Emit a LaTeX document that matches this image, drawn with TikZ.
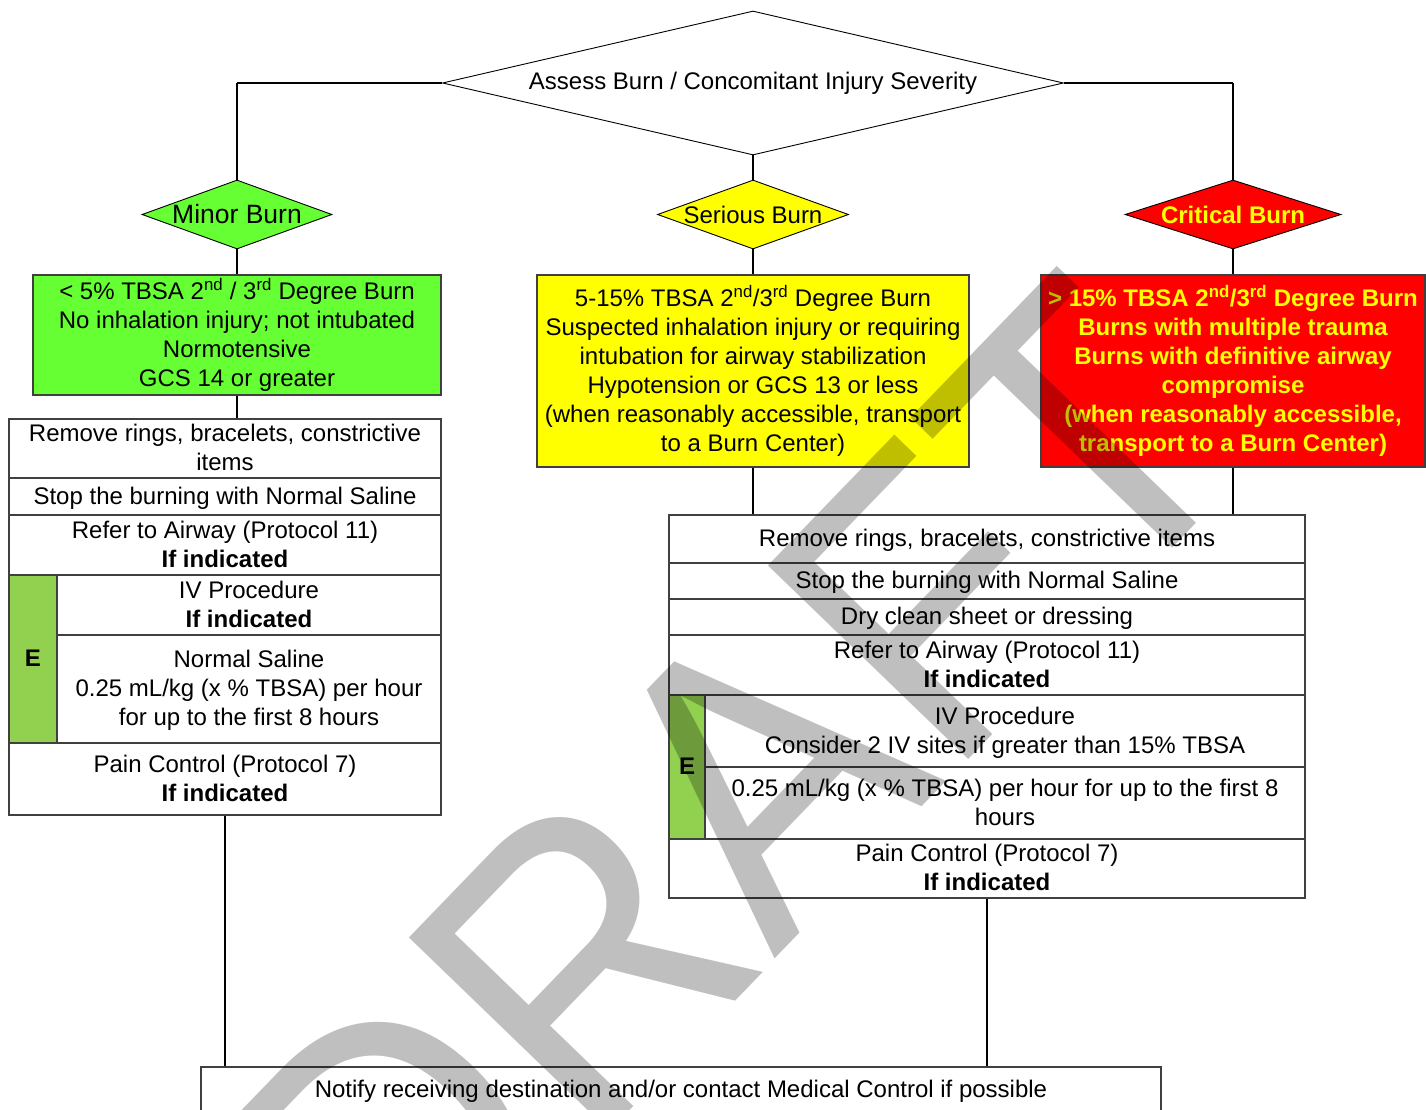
\documentclass[tikz,border=0pt]{standalone}
\usepackage{fontspec}
\setmainfont{Liberation Sans}
\usetikzlibrary{shapes.geometric}
\definecolor{minorg}{HTML}{66FF33}
\definecolor{ecol}{HTML}{92D050}
\definecolor{seriousy}{HTML}{FFFF00}
\definecolor{criticalr}{HTML}{FF0000}
\definecolor{boxline}{HTML}{404040}
\newcommand{\fsz}{\fontsize{24}{29}\selectfont}
\newcommand{\vs}{\rule[-6pt]{0pt}{27pt}}
\begin{document}
\begin{tikzpicture}[x=1pt,y=-1pt,
  cell/.style={rectangle, draw=boxline, line width=1.2pt, inner sep=0pt, align=center, font=\fsz},
  dia/.style={diamond, draw=black, line width=0.9pt, inner sep=0pt},
  conn/.style={draw=black, line width=1.3pt},
  hconn/.style={draw=black, line width=2.4pt},
  wmark/.style={rotate=46, xscale=0.92, anchor=base west, inner sep=0pt, font=\fontsize{405}{405}\selectfont, text=black, text opacity=0.25}]
\useasboundingbox (0,0) rectangle (1426,1110);

% decision diamonds
\node[dia, fill=white, minimum width=621pt, minimum height=144pt] (assess) at (753,83)
  {\makebox[0pt]{\fsz Assess Burn / Concomitant Injury Severity}};
\node[dia, fill=minorg, minimum width=190pt, minimum height=69pt] (minor) at (237,214.5)
  {\makebox[0pt]{\fontsize{26.5}{30}\selectfont Minor Burn}};
\node[dia, fill=seriousy, minimum width=191pt, minimum height=69pt] (serious) at (753,214.5)
  {\makebox[0pt]{\fsz Serious Burn}};
\node[dia, fill=criticalr, minimum width=216pt, minimum height=69pt] (critical) at (1233,214.5)
  {\makebox[0pt]{\fsz\bfseries\color{seriousy}Critical Burn}};

% criteria boxes
\node[cell, fill=minorg, minimum width=408pt, minimum height=120pt] (gbox) at (237,335)
  {\vs{}< 5\% TBSA 2\textsuperscript{nd} / 3\textsuperscript{rd} Degree Burn\\No inhalation injury; not intubated\\Normotensive\\GCS 14 or greater\vs};
\node[cell, fill=seriousy, minimum width=432pt, minimum height=192pt] (ybox) at (753,371)
  {\vs{}5-15\% TBSA 2\textsuperscript{nd}/3\textsuperscript{rd} Degree Burn\\Suspected inhalation injury or requiring\\intubation for airway stabilization\\Hypotension or GCS 13 or less\\(when reasonably accessible, transport\\to a Burn Center)\vs};
\node[cell, fill=criticalr, text=seriousy, font=\fsz\bfseries, minimum width=384pt, minimum height=192pt] (rbox) at (1233,371)
  {\vs{}> 15\% TBSA 2\textsuperscript{nd}/3\textsuperscript{rd} Degree Burn\\Burns with multiple trauma\\Burns with definitive airway\\compromise\\(when reasonably accessible,\\transport to a Burn Center)\vs};

% left treatment list
\node[cell, minimum width=432pt, minimum height=59pt] (l1) at (225,448.5)
  {\vs{}Remove rings, bracelets, constrictive\\items\vs};
\node[cell, minimum width=432pt, minimum height=37pt] (l2) at (225,496.5)
  {\vs{}Stop the burning with Normal Saline};
\node[cell, minimum width=432pt, minimum height=60pt] (l3) at (225,545)
  {\vs{}Refer to Airway (Protocol 11)\\\textbf{If indicated}\vs};
\node[cell, fill=ecol, minimum width=48pt, minimum height=168pt, font=\fsz\bfseries] (le) at (33,659) {\vs{}E};
\node[cell, minimum width=384pt, minimum height=60pt] (l4) at (249,605)
  {\vs{}IV Procedure\\\textbf{If indicated}\vs};
\node[cell, minimum width=384pt, minimum height=108pt] (l5) at (249,689)
  {\vs{}Normal Saline\\0.25 mL/kg (x \% TBSA) per hour\\for up to the first 8 hours\vs};
\node[cell, minimum width=432pt, minimum height=72pt] (l6) at (225,779)
  {\vs{}Pain Control (Protocol 7)\\\textbf{If indicated}\vs};

% right treatment list
\node[cell, minimum width=636pt, minimum height=48pt] (r1) at (987,539)
  {\vs{}Remove rings, bracelets, constrictive items};
\node[cell, minimum width=636pt, minimum height=36pt] (r2) at (987,581)
  {\vs{}Stop the burning with Normal Saline};
\node[cell, minimum width=636pt, minimum height=36pt] (r3) at (987,617)
  {\vs{}Dry clean sheet or dressing};
\node[cell, minimum width=636pt, minimum height=60pt] (r4) at (987,665)
  {\vs{}Refer to Airway (Protocol 11)\\\textbf{If indicated}\vs};
\node[cell, fill=ecol, minimum width=36pt, minimum height=144pt, font=\fsz\bfseries] (re) at (687,767) {\vs{}E};
\node[cell, minimum width=600pt, minimum height=72pt] (r5) at (1005,731)
  {\vs{}IV Procedure\\Consider 2 IV sites if greater than 15\% TBSA\vs};
\node[cell, minimum width=600pt, minimum height=72pt] (r6) at (1005,803)
  {\vs{}0.25 mL/kg (x \% TBSA) per hour for up to the first 8\\hours\vs};
\node[cell, minimum width=636pt, minimum height=59pt] (r7) at (987,868.5)
  {\vs{}Pain Control (Protocol 7)\\\textbf{If indicated}\vs};

% final box
\node[cell, minimum width=960pt, minimum height=46pt] (bot) at (681,1090)
  {\vs{}Notify receiving destination and/or contact Medical Control if possible};

% connectors
\draw[hconn] (assess.west) -- (assess.west -| minor.north);
\draw[conn] (assess.west -| minor.north) -- (minor.north);
\draw[hconn] (assess.east) -- (assess.east -| critical.north);
\draw[conn] (assess.east -| critical.north) -- (critical.north);
\draw[conn] (assess.south) -- (serious.north);
\draw[conn] (minor.south) -- (gbox.north);
\draw[conn] (serious.south) -- (ybox.north);
\draw[conn] (critical.south) -- (rbox.north);
\draw[conn] (gbox.south) -- (gbox.south |- l1.north);
\draw[conn] (ybox.south) -- (ybox.south |- r1.north);
\draw[conn] (rbox.south) -- (rbox.south |- r1.north);
\draw[conn] (l6.south) -- (l6.south |- bot.north);
\draw[conn] (r7.south) -- (r7.south |- bot.north);

% watermark
\node[wmark] (wm) at (401,1347) {DRAFT};
\end{tikzpicture}
\end{document}
